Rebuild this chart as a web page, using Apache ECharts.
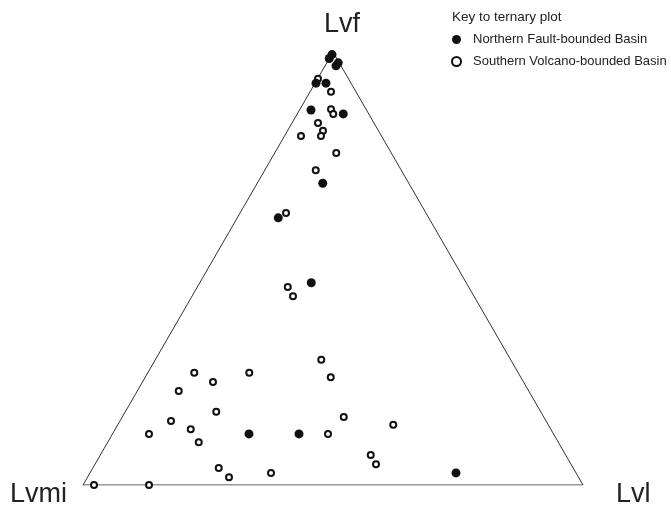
<!DOCTYPE html>
<html>
	<head>
		<meta charset="utf-8">
		<title>Ternary plot Lvf-Lvmi-Lvl</title>
		<style type="text/css">
			html,
			body {
				margin: 0;
				padding: 0;
				background: #fff;
			}

			#chart {
				width: 671px;
				height: 507px;
			}
		</style>
	</head>
	<body>
		<div id="chart"></div>

		<script src="https://cdn.jsdelivr.net/npm/echarts@6/dist/echarts.min.js"></script>
		<script>
			// 端元名称
			var apexNames = ['Lvf', 'Lvmi', 'Lvl'];
			var seriesNames = ['Northern Fault-bounded Basin', 'Southern Volcano-bounded Basin'];

			// Northern Fault-bounded Basin (%)
			var northLvf = [99.4, 98.5, 97.5, 96.8, 92.8, 92.8, 86.6, 85.7, 69.7, 61.7, 46.7, 11.8, 11.8, 2.8];
			var northLvmi = [0.5, 1.5, 0.2, 1.0, 7.0, 5.0, 11.1, 5.1, 17.2, 30.1, 31.0, 60.9, 50.9, 24.0];
			var northLvl = [0.1, 0.0, 2.3, 2.2, 0.2, 2.2, 2.3, 9.2, 13.1, 8.2, 22.3, 27.3, 37.3, 73.2];

			// Southern Volcano-bounded Basin (%)
			var southLvf = [93.8, 90.8, 86.8, 85.7, 83.6, 81.8, 80.6, 80.6, 76.7, 72.7, 62.8, 45.7, 43.6, 28.9, 24.9,
				25.9, 23.8, 25.9, 21.7, 16.9, 14.8, 12.9, 9.9, 11.8, 3.9, 1.8, 2.8, 0.0, 0.0, 15.7, 11.8, 13.9, 6.9, 4.8];
			var southLvmi = [6.1, 5.0, 7.0, 7.1, 11.2, 11.1, 12.1, 16.1, 11.0, 17.1, 28.0, 36.2, 36.2, 37.9, 38.0,
				64.8, 62.1, 53.8, 70.0, 64.9, 75.0, 72.0, 71.9, 80.9, 70.9, 69.9, 61.0, 97.8, 86.8, 40.0, 45.1, 31.0, 39.0, 39.0];
			var southLvl = [0.1, 4.2, 6.2, 7.2, 5.2, 7.1, 7.3, 3.3, 12.3, 10.2, 9.2, 18.1, 20.2, 33.2, 37.1,
				9.3, 14.1, 20.3, 8.3, 18.2, 10.2, 15.1, 18.2, 7.3, 25.2, 28.3, 36.2, 2.2, 13.2, 44.3, 43.1, 55.1, 54.1, 56.2];

			var SQ3 = Math.sqrt(3) / 2;

			// 三元组分 -> 平面坐标 (Lvmi 左下, Lvl 右下, Lvf 顶点)
			function toXY(f, m, l) {
				var s = f + m + l;
				return [(l + f / 2) / s, (f / s) * SQ3];
			}

			function buildPoints(fs, ms, ls) {
				var out = [];
				for (var i = 0; i < fs.length; i++) {
					out.push(toXY(fs[i], ms[i], ls[i]));
				}
				return out;
			}

			// 三角形边框 (顶点: Lvmi, Lvl, Lvf)
			var frame = [toXY(0, 100, 0), toXY(0, 0, 100), toXY(100, 0, 0), toXY(0, 100, 0)];

			var myChart = echarts.init(document.getElementById('chart'));

			var font = '"Liberation Sans", Arial, Helvetica, sans-serif';

			var option = {
				animation: false,
				title: {
					text: 'Key to ternary plot',
					left: 447,
					top: 5,
					textStyle: {
						fontFamily: font,
						fontSize: 13.5,
						fontWeight: 'normal',
						color: '#222'
					}
				},
				legend: {
					data: seriesNames,
					orient: 'vertical',
					left: 446,
					top: 28,
					itemWidth: 9,
					itemHeight: 9,
					itemGap: 9,
					textStyle: {
						fontFamily: font,
						fontSize: 13,
						color: '#222',
						padding: [0, 0, 0, 7]
					}
				},
				grid: {
					left: 83,
					top: 52,
					width: 500,
					height: 433
				},
				xAxis: {
					type: 'value',
					min: 0,
					max: 1,
					show: false
				},
				yAxis: {
					type: 'value',
					min: 0,
					max: SQ3,
					show: false
				},
				graphic: [{
					type: 'text',
					left: 324,
					top: 11,
					style: {
						text: apexNames[0],
						font: '27px ' + font,
						fill: '#222'
					}
				}, {
					type: 'text',
					left: 10,
					top: 481,
					style: {
						text: apexNames[1],
						font: '27px ' + font,
						fill: '#222'
					}
				}, {
					type: 'text',
					left: 616,
					top: 481,
					style: {
						text: apexNames[2],
						font: '27px ' + font,
						fill: '#222'
					}
				}],
				series: [{
					name: 'frame',
					type: 'line',
					data: frame,
					symbol: 'none',
					silent: true,
					lineStyle: {
						color: '#333',
						width: 1
					},
					z: 1
				}, {
					name: seriesNames[0],
					type: 'scatter',
					data: buildPoints(northLvf, northLvmi, northLvl),
					symbol: 'circle',
					symbolSize: 9,
					itemStyle: {
						color: '#111',
						opacity: 1
					},
					z: 3
				}, {
					name: seriesNames[1],
					type: 'scatter',
					data: buildPoints(southLvf, southLvmi, southLvl),
					symbol: 'circle',
					symbolSize: 6,
					itemStyle: {
						color: '#fff',
						borderColor: '#111',
						borderWidth: 2,
						opacity: 1
					},
					z: 2
				}]
			};

			myChart.setOption(option);
		</script>
	</body>
</html>
